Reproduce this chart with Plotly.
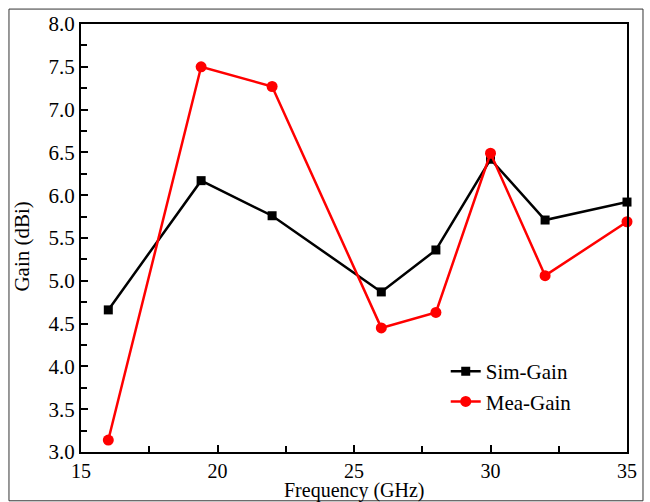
import plotly.graph_objects as go

freq = [16, 19.4, 22, 26, 28, 30, 32, 35]
sim_gain = [4.66, 6.17, 5.76, 4.87, 5.36, 6.42, 5.71, 5.92]
mea_gain = [3.14, 7.50, 7.27, 4.45, 4.63, 6.49, 5.06, 5.69]

x_ticks = [15, 20, 25, 30, 35]
y_ticks = [3.0, 3.5, 4.0, 4.5, 5.0, 5.5, 6.0, 6.5, 7.0, 7.5, 8.0]

FONT = "Liberation Serif, Times New Roman, serif"

fig = go.Figure()
fig.add_trace(go.Scatter(
    x=freq, y=sim_gain, name="Sim-Gain", mode="lines+markers",
    line=dict(color="black", width=2.5),
    marker=dict(symbol="square", size=9, color="black"),
    cliponaxis=False,
))
fig.add_trace(go.Scatter(
    x=freq, y=mea_gain, name="Mea-Gain", mode="lines+markers",
    line=dict(color="#ff0000", width=2.5),
    marker=dict(symbol="circle", size=11, color="#ff0000"),
    cliponaxis=False,
))

axis_common = dict(
    showline=True, linecolor="black", linewidth=2, mirror=True,
    ticks="inside", ticklen=7, tickwidth=2, tickcolor="black",
    showgrid=False, zeroline=False,
)

fig.update_xaxes(
    range=[15, 35], tickvals=x_ticks, ticktext=[str(v) for v in x_ticks],
    minor=dict(dtick=2.5, ticks="inside", ticklen=6, tickwidth=2, tickcolor="black"),
    tickfont=dict(family=FONT, size=20, color="black"),
    **axis_common,
)
fig.update_yaxes(
    range=[3, 8], tickvals=y_ticks, ticktext=[f"{v:.1f}" for v in y_ticks],
    minor=dict(dtick=0.25, ticks="inside", ticklen=6, tickwidth=2, tickcolor="black"),
    tickfont=dict(family=FONT, size=21, color="black"),
    **axis_common,
)

fig.add_annotation(
    text="Frequency (GHz)", xref="paper", yref="paper", x=0.5, y=-0.089,
    xanchor="center", yanchor="middle", showarrow=False,
    font=dict(family=FONT, size=20, color="black"),
)
fig.add_annotation(
    text="Gain (dBi)", xref="paper", yref="paper", x=-0.108, y=0.48,
    xanchor="center", yanchor="middle", showarrow=False, textangle=-90,
    font=dict(family=FONT, size=21, color="black"),
)

fig.add_shape(
    type="rect", xref="paper", yref="paper",
    x0=-0.1319, x1=1.0293, y0=-0.114, y1=1.0349,
    line=dict(color="#333333", width=1), fillcolor="rgba(0,0,0,0)", layer="below",
)

fig.update_layout(
    width=650, height=502,
    margin=dict(l=81, r=23, t=22, b=50),
    paper_bgcolor="white", plot_bgcolor="white",
    showlegend=True,
    legend=dict(
        x=0.668, y=0.236, xanchor="left", yanchor="top",
        bgcolor="rgba(255,255,255,0)", borderwidth=0,
        font=dict(family=FONT, size=21, color="black"),
        tracegroupgap=0, itemwidth=30,
    ),
)

fig.write_html("out.html")
